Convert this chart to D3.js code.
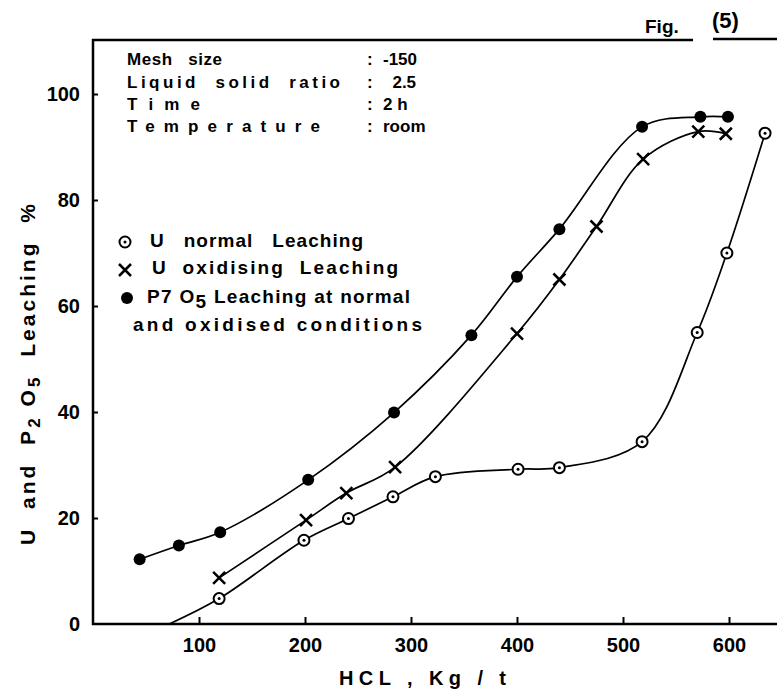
<!DOCTYPE html>
<html>
<head>
<meta http-equiv="Content-Type" content="text/html;charset=utf-8">
<script src="https://d3js.org/d3.v7.min.js"></script>
<title>Fig. (5)</title>
<style>
  body { margin: 0; background: #fff; }
  svg { display: block; }
  text { font-family: "Liberation Sans", Arial, sans-serif; font-weight: bold; fill: #000; }
</style>
</head>
<body>
<svg width="777" height="692"></svg>
<script>
// ---- data ----
var xTicks = [100, 200, 300, 400, 500, 600];
var yTicks = [0, 20, 40, 60, 80, 100];

// U normal leaching (first entry is where the curve leaves the axis, no marker)
var uNormalHcl = [72, 119, 199, 241, 283, 323, 401, 440, 518, 570, 598, 634];
var uNormalPct = [0, 4.8, 15.8, 19.9, 24, 27.8, 29.2, 29.5, 34.4, 55, 70, 92.6];

// U oxidising leaching
var uOxidHcl = [119, 201, 239, 285, 400, 440, 475, 519, 571, 597];
var uOxidPct = [8.7, 19.6, 24.7, 29.6, 54.8, 65, 75, 87.7, 92.9, 92.5];

// P2O5 leaching
var p2o5Hcl = [44, 81, 120, 203, 284, 357, 400, 440, 518, 573, 599];
var p2o5Pct = [12.2, 14.8, 17.3, 27.2, 39.9, 54.5, 65.5, 74.5, 93.8, 95.7, 95.7];

var infoLabels = ["Mesh   size", "Liquid  solid  ratio", "T i m e", "Temperature"];
var infoValues = ["-150", "  2.5", "2 h", "room"];

var legendLabels = ["U   normal   Leaching", "U  oxidising  Leaching", "P7 O5 Leaching at normal", "and oxidised conditions"];

// ---- drawing ----
var svg = d3.select("svg");

var x = d3.scaleLinear().domain([0, 600]).range([93, 729]);
var y = d3.scaleLinear().domain([0, 100]).range([624, 94]);

function pts(xs, ys) {
    return xs.map(function(v, i) { return {x: v, y: ys[i]}; });
}
var uNormal = pts(uNormalHcl, uNormalPct);
var uOxid = pts(uOxidHcl, uOxidPct);
var p2o5 = pts(p2o5Hcl, p2o5Pct);

// frame lines
svg.append("line").attr("x1", 93).attr("x2", 93).attr("y1", 39).attr("y2", 625)
    .attr("stroke", "#000").attr("stroke-width", 2.5);
svg.append("line").attr("x1", 92).attr("x2", 777).attr("y1", 624).attr("y2", 624)
    .attr("stroke", "#000").attr("stroke-width", 2.5);
svg.append("line").attr("x1", 92).attr("x2", 693).attr("y1", 40).attr("y2", 40)
    .attr("stroke", "#000").attr("stroke-width", 2.5);
svg.append("line").attr("x1", 713).attr("x2", 777).attr("y1", 39).attr("y2", 39)
    .attr("stroke", "#000").attr("stroke-width", 2.5);

// axes
var xAxis = svg.append("g")
    .attr("transform", "translate(0,624)")
    .call(d3.axisBottom(x).tickValues(xTicks).tickSize(-7).tickPadding(14));
xAxis.select(".domain").remove();
xAxis.selectAll("line").attr("stroke", "#000").attr("stroke-width", 2);
xAxis.selectAll("text").attr("font-size", 20).attr("font-family", null).attr("fill", "#000");

var yAxis = svg.append("g")
    .attr("transform", "translate(93,0)")
    .call(d3.axisLeft(y).tickValues(yTicks).tickSize(-5).tickPadding(13));
yAxis.select(".domain").remove();
yAxis.selectAll("line").attr("stroke", "#000").attr("stroke-width", 2);
yAxis.selectAll(".tick").filter(function(d) { return d === 0; }).select("line").remove();
yAxis.selectAll("text").attr("font-size", 20).attr("font-family", null).attr("fill", "#000");

// axis titles
svg.append("text")
    .attr("x", 339).attr("y", 685)
    .attr("font-size", 20)
    .attr("textLength", 167).attr("lengthAdjust", "spacing")
    .style("white-space", "pre")
    .text("HCL , Kg / t");

var yt = svg.append("text")
    .attr("transform", "rotate(-90)")
    .attr("x", -545).attr("y", 35)
    .attr("font-size", 21)
    .attr("textLength", 341).attr("lengthAdjust", "spacing")
    .style("white-space", "pre");
yt.append("tspan").text("U  and  P");
yt.append("tspan").attr("dy", 5).attr("font-size", 17).text("2");
yt.append("tspan").attr("dy", -5).text(" O");
yt.append("tspan").attr("dy", 5).attr("font-size", 17).text("5");
yt.append("tspan").attr("dy", -5).text("  Leaching  %");

// curves
var line = d3.line()
    .x(function(d) { return x(d.x); })
    .y(function(d) { return y(d.y); })
    .curve(d3.curveCatmullRom.alpha(0.5));

[uNormal, uOxid, p2o5].forEach(function(s) {
    svg.append("path").datum(s)
        .attr("d", line)
        .attr("fill", "none")
        .attr("stroke", "#000")
        .attr("stroke-width", 1.7);
});

// markers
function dotCircle(g, cx, cy) {
    g.append("circle").attr("cx", cx).attr("cy", cy).attr("r", 5.5)
        .attr("fill", "#fff").attr("stroke", "#000").attr("stroke-width", 2);
    g.append("circle").attr("cx", cx).attr("cy", cy).attr("r", 1.5).attr("fill", "#000");
}
function cross(g, cx, cy) {
    var h = 6;
    g.append("path")
        .attr("d", "M" + (cx - h) + "," + (cy - h) + "L" + (cx + h) + "," + (cy + h) +
                   "M" + (cx - h) + "," + (cy + h) + "L" + (cx + h) + "," + (cy - h))
        .attr("stroke", "#000").attr("stroke-width", 2.5);
}
function filled(g, cx, cy) {
    g.append("circle").attr("cx", cx).attr("cy", cy).attr("r", 6).attr("fill", "#000");
}

var mk = svg.append("g");
uNormal.slice(1).forEach(function(d) { dotCircle(mk, x(d.x), y(d.y)); });
uOxid.forEach(function(d) { cross(mk, x(d.x), y(d.y)); });
p2o5.forEach(function(d) { filled(mk, x(d.x), y(d.y)); });

// info block
var infoBase = [65, 88, 110, 132];
var infoLen = [95, 213, 73, 193];
infoLabels.forEach(function(t, i) {
    svg.append("text").attr("x", 127).attr("y", infoBase[i])
        .attr("font-size", 17)
        .attr("textLength", infoLen[i]).attr("lengthAdjust", "spacing")
        .style("white-space", "pre")
        .text(t);
    svg.append("text").attr("x", 367).attr("y", infoBase[i])
        .attr("font-size", 17).text(":");
    svg.append("text").attr("x", 383).attr("y", infoBase[i])
        .attr("font-size", 17).style("white-space", "pre")
        .text(infoValues[i]);
});

// legend
var legBase = [247, 274, 303, 331];
var legX = [150, 152, 147, 133];
var legLen = [213, 246, 263, 289];
legendLabels.forEach(function(t, i) {
    var tx = svg.append("text").attr("x", legX[i]).attr("y", legBase[i])
        .attr("font-size", 19)
        .attr("textLength", legLen[i]).attr("lengthAdjust", "spacing")
        .style("white-space", "pre");
    if (t.indexOf("O5") >= 0) {
        var parts = t.split("O5");
        tx.append("tspan").text(parts[0] + "O");
        tx.append("tspan").attr("dy", 5).text("5");
        tx.append("tspan").attr("dy", -5).text(parts[1]);
    } else {
        tx.text(t);
    }
});
var lg = svg.append("g");
dotCircle(lg, 125, 242);
cross(lg, 125, 270);
filled(lg, 127, 298);

// figure label
svg.append("text").attr("x", 645).attr("y", 33).attr("font-size", 19).text("Fig.");
svg.append("text").attr("x", 712).attr("y", 28).attr("font-size", 22).text("(5)");
</script>
</body>
</html>
